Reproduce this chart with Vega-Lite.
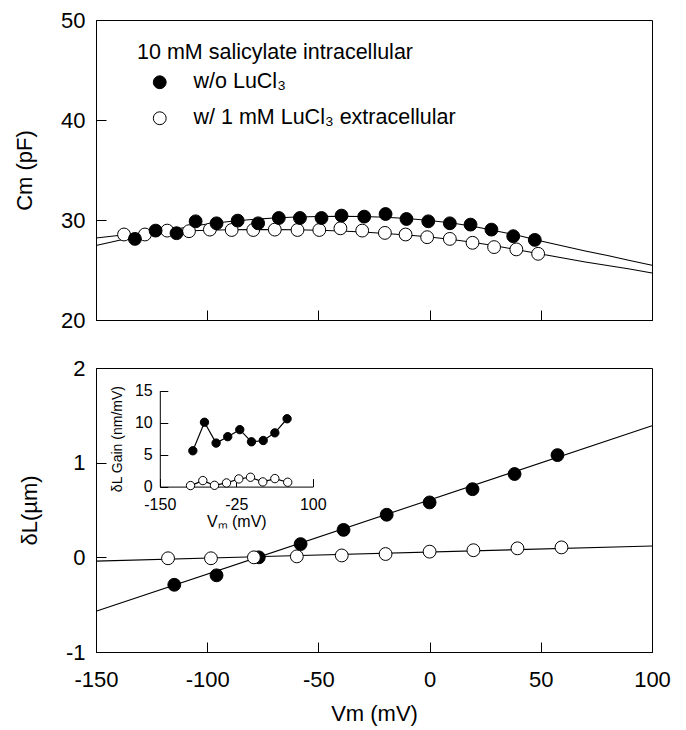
{
  "$schema": "https://vega.github.io/schema/vega-lite/v6.json",
  "padding": {"left": 13, "top": 8, "right": 20, "bottom": 5},
  "config": {
    "font": "Liberation Sans",
    "view": {"stroke": "black", "strokeWidth": 1},
    "axis": {"domainColor": "black", "tickColor": "black", "labelColor": "black", "titleColor": "black", "labelFont": "Liberation Sans", "titleFont": "Liberation Sans", "titleFontWeight": "normal", "grid": false, "labelFlush": false, "domainWidth": 1, "tickWidth": 1, "labelExpr": "'' + datum.value"}
  },
  "datasets": {
    "cm": [
      {"v": -137.4, "cm": 28.55, "cond": "w/ 1 mM LuCl₃ extracellular"},
      {"v": -128.0, "cm": 28.55, "cond": "w/ 1 mM LuCl₃ extracellular"},
      {"v": -118.0, "cm": 28.94, "cond": "w/ 1 mM LuCl₃ extracellular"},
      {"v": -108.2, "cm": 28.88, "cond": "w/ 1 mM LuCl₃ extracellular"},
      {"v": -98.8, "cm": 29.04, "cond": "w/ 1 mM LuCl₃ extracellular"},
      {"v": -89.0, "cm": 29.0, "cond": "w/ 1 mM LuCl₃ extracellular"},
      {"v": -79.3, "cm": 29.0, "cond": "w/ 1 mM LuCl₃ extracellular"},
      {"v": -69.6, "cm": 29.04, "cond": "w/ 1 mM LuCl₃ extracellular"},
      {"v": -59.4, "cm": 29.0, "cond": "w/ 1 mM LuCl₃ extracellular"},
      {"v": -49.6, "cm": 29.0, "cond": "w/ 1 mM LuCl₃ extracellular"},
      {"v": -40.1, "cm": 29.17, "cond": "w/ 1 mM LuCl₃ extracellular"},
      {"v": -30.3, "cm": 28.94, "cond": "w/ 1 mM LuCl₃ extracellular"},
      {"v": -20.1, "cm": 28.71, "cond": "w/ 1 mM LuCl₃ extracellular"},
      {"v": -10.8, "cm": 28.55, "cond": "w/ 1 mM LuCl₃ extracellular"},
      {"v": -1.1, "cm": 28.28, "cond": "w/ 1 mM LuCl₃ extracellular"},
      {"v": 9.1, "cm": 28.11, "cond": "w/ 1 mM LuCl₃ extracellular"},
      {"v": 19.3, "cm": 27.72, "cond": "w/ 1 mM LuCl₃ extracellular"},
      {"v": 29.0, "cm": 27.29, "cond": "w/ 1 mM LuCl₃ extracellular"},
      {"v": 39.0, "cm": 27.06, "cond": "w/ 1 mM LuCl₃ extracellular"},
      {"v": 48.8, "cm": 26.62, "cond": "w/ 1 mM LuCl₃ extracellular"},
      {"v": -132.5, "cm": 28.11, "cond": "w/o LuCl₃"},
      {"v": -123.2, "cm": 28.94, "cond": "w/o LuCl₃"},
      {"v": -113.8, "cm": 28.68, "cond": "w/o LuCl₃"},
      {"v": -105.2, "cm": 29.87, "cond": "w/o LuCl₃"},
      {"v": -95.8, "cm": 29.67, "cond": "w/o LuCl₃"},
      {"v": -86.3, "cm": 29.94, "cond": "w/o LuCl₃"},
      {"v": -77.1, "cm": 29.67, "cond": "w/o LuCl₃"},
      {"v": -67.8, "cm": 30.2, "cond": "w/o LuCl₃"},
      {"v": -58.3, "cm": 30.2, "cond": "w/o LuCl₃"},
      {"v": -48.6, "cm": 30.2, "cond": "w/o LuCl₃"},
      {"v": -39.6, "cm": 30.44, "cond": "w/o LuCl₃"},
      {"v": -29.4, "cm": 30.34, "cond": "w/o LuCl₃"},
      {"v": -19.8, "cm": 30.6, "cond": "w/o LuCl₃"},
      {"v": -10.4, "cm": 30.1, "cond": "w/o LuCl₃"},
      {"v": -0.6, "cm": 29.87, "cond": "w/o LuCl₃"},
      {"v": 9.1, "cm": 29.67, "cond": "w/o LuCl₃"},
      {"v": 18.4, "cm": 29.54, "cond": "w/o LuCl₃"},
      {"v": 27.8, "cm": 29.04, "cond": "w/o LuCl₃"},
      {"v": 37.6, "cm": 28.38, "cond": "w/o LuCl₃"},
      {"v": 47.3, "cm": 28.01, "cond": "w/o LuCl₃"}
    ],
    "cmfit": [
      {"v": -150, "cm": 27.45, "cond": "w/o LuCl₃"},
      {"v": -140, "cm": 27.95, "cond": "w/o LuCl₃"},
      {"v": -130, "cm": 28.4, "cond": "w/o LuCl₃"},
      {"v": -120, "cm": 28.85, "cond": "w/o LuCl₃"},
      {"v": -110, "cm": 29.25, "cond": "w/o LuCl₃"},
      {"v": -100, "cm": 29.6, "cond": "w/o LuCl₃"},
      {"v": -90, "cm": 29.85, "cond": "w/o LuCl₃"},
      {"v": -80, "cm": 30.05, "cond": "w/o LuCl₃"},
      {"v": -70, "cm": 30.2, "cond": "w/o LuCl₃"},
      {"v": -60, "cm": 30.3, "cond": "w/o LuCl₃"},
      {"v": -50, "cm": 30.35, "cond": "w/o LuCl₃"},
      {"v": -40, "cm": 30.38, "cond": "w/o LuCl₃"},
      {"v": -30, "cm": 30.35, "cond": "w/o LuCl₃"},
      {"v": -20, "cm": 30.28, "cond": "w/o LuCl₃"},
      {"v": -10, "cm": 30.15, "cond": "w/o LuCl₃"},
      {"v": 0, "cm": 29.95, "cond": "w/o LuCl₃"},
      {"v": 10, "cm": 29.7, "cond": "w/o LuCl₃"},
      {"v": 20, "cm": 29.35, "cond": "w/o LuCl₃"},
      {"v": 30, "cm": 28.9, "cond": "w/o LuCl₃"},
      {"v": 40, "cm": 28.45, "cond": "w/o LuCl₃"},
      {"v": 50, "cm": 27.9, "cond": "w/o LuCl₃"},
      {"v": 60, "cm": 27.4, "cond": "w/o LuCl₃"},
      {"v": 70, "cm": 26.9, "cond": "w/o LuCl₃"},
      {"v": 80, "cm": 26.45, "cond": "w/o LuCl₃"},
      {"v": 90, "cm": 25.95, "cond": "w/o LuCl₃"},
      {"v": 100, "cm": 25.47, "cond": "w/o LuCl₃"},
      {"v": -150, "cm": 28.2, "cond": "w/ 1 mM LuCl₃ extracellular"},
      {"v": -140, "cm": 28.45, "cond": "w/ 1 mM LuCl₃ extracellular"},
      {"v": -130, "cm": 28.65, "cond": "w/ 1 mM LuCl₃ extracellular"},
      {"v": -120, "cm": 28.8, "cond": "w/ 1 mM LuCl₃ extracellular"},
      {"v": -110, "cm": 28.9, "cond": "w/ 1 mM LuCl₃ extracellular"},
      {"v": -100, "cm": 28.97, "cond": "w/ 1 mM LuCl₃ extracellular"},
      {"v": -90, "cm": 29.02, "cond": "w/ 1 mM LuCl₃ extracellular"},
      {"v": -80, "cm": 29.04, "cond": "w/ 1 mM LuCl₃ extracellular"},
      {"v": -70, "cm": 29.04, "cond": "w/ 1 mM LuCl₃ extracellular"},
      {"v": -60, "cm": 29.02, "cond": "w/ 1 mM LuCl₃ extracellular"},
      {"v": -50, "cm": 28.97, "cond": "w/ 1 mM LuCl₃ extracellular"},
      {"v": -40, "cm": 28.9, "cond": "w/ 1 mM LuCl₃ extracellular"},
      {"v": -30, "cm": 28.8, "cond": "w/ 1 mM LuCl₃ extracellular"},
      {"v": -20, "cm": 28.65, "cond": "w/ 1 mM LuCl₃ extracellular"},
      {"v": -10, "cm": 28.5, "cond": "w/ 1 mM LuCl₃ extracellular"},
      {"v": 0, "cm": 28.3, "cond": "w/ 1 mM LuCl₃ extracellular"},
      {"v": 10, "cm": 28.05, "cond": "w/ 1 mM LuCl₃ extracellular"},
      {"v": 20, "cm": 27.75, "cond": "w/ 1 mM LuCl₃ extracellular"},
      {"v": 30, "cm": 27.4, "cond": "w/ 1 mM LuCl₃ extracellular"},
      {"v": 40, "cm": 27.0, "cond": "w/ 1 mM LuCl₃ extracellular"},
      {"v": 50, "cm": 26.6, "cond": "w/ 1 mM LuCl₃ extracellular"},
      {"v": 60, "cm": 26.2, "cond": "w/ 1 mM LuCl₃ extracellular"},
      {"v": 70, "cm": 25.8, "cond": "w/ 1 mM LuCl₃ extracellular"},
      {"v": 80, "cm": 25.45, "cond": "w/ 1 mM LuCl₃ extracellular"},
      {"v": 90, "cm": 25.1, "cond": "w/ 1 mM LuCl₃ extracellular"},
      {"v": 100, "cm": 24.7, "cond": "w/ 1 mM LuCl₃ extracellular"}
    ],
    "dl": [
      {"v": -114.8, "dl": -0.29, "cond": "w/o LuCl₃"},
      {"v": -95.8, "dl": -0.19, "cond": "w/o LuCl₃"},
      {"v": -76.8, "dl": 0.0, "cond": "w/o LuCl₃"},
      {"v": -58.0, "dl": 0.14, "cond": "w/o LuCl₃"},
      {"v": -38.7, "dl": 0.29, "cond": "w/o LuCl₃"},
      {"v": -19.3, "dl": 0.45, "cond": "w/o LuCl₃"},
      {"v": 0.0, "dl": 0.58, "cond": "w/o LuCl₃"},
      {"v": 19.3, "dl": 0.72, "cond": "w/o LuCl₃"},
      {"v": 38.2, "dl": 0.88, "cond": "w/o LuCl₃"},
      {"v": 57.5, "dl": 1.08, "cond": "w/o LuCl₃"},
      {"v": -117.6, "dl": -0.01, "cond": "w/ 1 mM LuCl₃ extracellular"},
      {"v": -98.3, "dl": -0.01, "cond": "w/ 1 mM LuCl₃ extracellular"},
      {"v": -79.0, "dl": 0.0, "cond": "w/ 1 mM LuCl₃ extracellular"},
      {"v": -59.7, "dl": 0.01, "cond": "w/ 1 mM LuCl₃ extracellular"},
      {"v": -39.5, "dl": 0.02, "cond": "w/ 1 mM LuCl₃ extracellular"},
      {"v": -19.8, "dl": 0.035, "cond": "w/ 1 mM LuCl₃ extracellular"},
      {"v": 0.0, "dl": 0.06, "cond": "w/ 1 mM LuCl₃ extracellular"},
      {"v": 19.7, "dl": 0.075, "cond": "w/ 1 mM LuCl₃ extracellular"},
      {"v": 39.5, "dl": 0.095, "cond": "w/ 1 mM LuCl₃ extracellular"},
      {"v": 59.3, "dl": 0.105, "cond": "w/ 1 mM LuCl₃ extracellular"}
    ],
    "dlfit": [
      {"v": -150, "dl": -0.57, "cond": "w/o LuCl₃"},
      {"v": 100, "dl": 1.39, "cond": "w/o LuCl₃"},
      {"v": -150, "dl": -0.04, "cond": "w/ 1 mM LuCl₃ extracellular"},
      {"v": 100, "dl": 0.12, "cond": "w/ 1 mM LuCl₃ extracellular"}
    ],
    "gain": [
      {"v": -96.0, "gain": 5.6, "cond": "w/o LuCl₃"},
      {"v": -77.0, "gain": 10.05, "cond": "w/o LuCl₃"},
      {"v": -58.0, "gain": 6.8, "cond": "w/o LuCl₃"},
      {"v": -39.0, "gain": 7.8, "cond": "w/o LuCl₃"},
      {"v": -19.3, "gain": 8.9, "cond": "w/o LuCl₃"},
      {"v": -0.2, "gain": 7.0, "cond": "w/o LuCl₃"},
      {"v": 19.0, "gain": 7.2, "cond": "w/o LuCl₃"},
      {"v": 38.0, "gain": 8.4, "cond": "w/o LuCl₃"},
      {"v": 58.0, "gain": 10.6, "cond": "w/o LuCl₃"},
      {"v": -99.8, "gain": 0.16, "cond": "w/ 1 mM LuCl₃ extracellular"},
      {"v": -79.7, "gain": 0.94, "cond": "w/ 1 mM LuCl₃ extracellular"},
      {"v": -60.6, "gain": 0.2, "cond": "w/ 1 mM LuCl₃ extracellular"},
      {"v": -41.0, "gain": 0.57, "cond": "w/ 1 mM LuCl₃ extracellular"},
      {"v": -20.9, "gain": 1.2, "cond": "w/ 1 mM LuCl₃ extracellular"},
      {"v": -1.8, "gain": 1.46, "cond": "w/ 1 mM LuCl₃ extracellular"},
      {"v": 18.3, "gain": 0.73, "cond": "w/ 1 mM LuCl₃ extracellular"},
      {"v": 38.0, "gain": 1.25, "cond": "w/ 1 mM LuCl₃ extracellular"},
      {"v": 59.0, "gain": 0.68, "cond": "w/ 1 mM LuCl₃ extracellular"}
    ]
  },
  "vconcat": [
    {
      "width": 556,
      "height": 300,
      "layer": [
        {
          "data": {"name": "cmfit"},
          "mark": {"type": "line", "color": "black", "strokeWidth": 1.1},
          "encoding": {
            "x": {"field": "v", "type": "quantitative", "scale": {"domain": [-150, 100], "nice": false},
                  "axis": {"values": [-150, -100, -50, 0, 50, 100], "labels": false, "title": null, "tickSize": -10}},
            "y": {"field": "cm", "type": "quantitative", "scale": {"domain": [20, 50], "nice": false, "zero": false},
                  "axis": {"values": [20, 30, 40, 50], "title": "Cm (pF)", "tickSize": -10, "labelPadding": 21, "labelFontSize": 22, "titleFontSize": 22, "titlePadding": 24}},
            "detail": {"field": "cond"}
          }
        },
        {
          "data": {"name": "cm"},
          "mark": {"type": "point", "shape": "circle", "filled": true, "stroke": "black", "strokeWidth": 1, "opacity": 1, "size": 165},
          "encoding": {
            "x": {"field": "v", "type": "quantitative"},
            "y": {"field": "cm", "type": "quantitative"},
            "fill": {"field": "cond", "type": "nominal",
                     "scale": {"domain": ["w/o LuCl₃", "w/ 1 mM LuCl₃ extracellular"], "range": ["black", "white"]},
                     "legend": {"title": "10 mM salicylate intracellular", "orient": "none", "legendX": 41, "legendY": 22,
                                "titleFontSize": 21.5, "titleFont": "Liberation Sans", "titleFontWeight": "normal", "titleColor": "black",
                                "labelFontSize": 21.5, "labelFont": "Liberation Sans", "labelColor": "black",
                                "symbolType": "circle", "symbolSize": 165, "symbolStrokeColor": "black", "symbolStrokeWidth": 1,
                                "symbolOffset": 12, "labelOffset": 23, "rowPadding": 13, "titlePadding": 8, "padding": 0,
                                "titleLimit": 500, "labelLimit": 500}}
          }
        }
      ]
    },
    {
      "width": 556,
      "height": 284,
      "layer": [
        {
          "layer": [
            {
              "data": {"name": "dlfit"},
              "mark": {"type": "line", "color": "black", "strokeWidth": 1.1},
              "encoding": {
                "x": {"field": "v", "type": "quantitative", "scale": {"domain": [-150, 100], "nice": false},
                      "axis": {"values": [-150, -100, -50, 0, 50, 100], "title": "Vm (mV)", "tickSize": -10, "labelPadding": 27, "labelFontSize": 22, "titleFontSize": 22, "titlePadding": 13}},
                "y": {"field": "dl", "type": "quantitative", "scale": {"domain": [-1, 2], "nice": false, "zero": false},
                      "axis": {"values": [-1, 0, 1, 2], "title": "δL(µm)", "tickSize": -10, "labelPadding": 21, "labelFontSize": 22, "titleFontSize": 22, "titlePadding": 24}},
                "detail": {"field": "cond"}
              }
            },
            {
              "data": {"name": "dl"},
              "mark": {"type": "point", "shape": "circle", "filled": true, "stroke": "black", "strokeWidth": 1, "opacity": 1, "size": 165},
              "encoding": {
                "x": {"field": "v", "type": "quantitative"},
                "y": {"field": "dl", "type": "quantitative"},
                "fill": {"field": "cond", "type": "nominal",
                         "scale": {"domain": ["w/o LuCl₃", "w/ 1 mM LuCl₃ extracellular"], "range": ["black", "white"]},
                         "legend": null}
              }
            }
          ]
        },
        {
          "layer": [
            {
              "data": {"name": "gain"},
              "mark": {"type": "line", "color": "black", "strokeWidth": 1.2},
              "encoding": {
                "x": {"field": "v", "type": "quantitative", "scale": {"domain": [-150, 100], "nice": false, "range": [63.8, 216.8]},
                      "axis": {"orient": "bottom", "offset": -165.4, "values": [-150, -25, 100], "title": "Vₘ (mV)", "tickSize": -8, "labelPadding": 18, "labelFontSize": 16, "titleFontSize": 16, "titlePadding": 1}},
                "y": {"field": "gain", "type": "quantitative", "scale": {"domain": [0, 15], "nice": false, "range": [118.6, 22.6]},
                      "axis": {"orient": "left", "offset": -63.8, "values": [0, 5, 10, 15], "title": "δL Gain (nm/mV)", "tickSize": -8, "labelPadding": 15.6, "labelFontSize": 16, "titleFontSize": 14, "titlePadding": 10}},
                "detail": {"field": "cond"}
              }
            },
            {
              "data": {"name": "gain"},
              "mark": {"type": "point", "shape": "circle", "filled": true, "stroke": "black", "strokeWidth": 1, "opacity": 1, "size": 70},
              "encoding": {
                "x": {"field": "v", "type": "quantitative"},
                "y": {"field": "gain", "type": "quantitative"},
                "fill": {"field": "cond", "type": "nominal",
                         "scale": {"domain": ["w/o LuCl₃", "w/ 1 mM LuCl₃ extracellular"], "range": ["black", "white"]},
                         "legend": null}
              }
            }
          ]
        }
      ],
      "resolve": {"scale": {"x": "independent", "y": "independent"}, "axis": {"x": "independent", "y": "independent"}}
    }
  ],
  "spacing": 48,
  "bounds": "flush",
  "resolve": {"scale": {"fill": "independent"}, "legend": {"fill": "independent"}}
}
